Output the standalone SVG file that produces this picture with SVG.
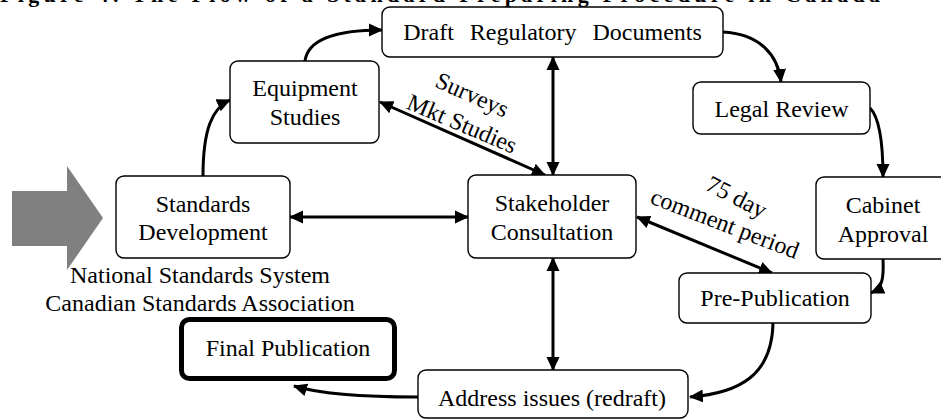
<svg xmlns="http://www.w3.org/2000/svg" width="941" height="419" viewBox="0 0 941 419">
<defs>
<marker id="ah" markerUnits="userSpaceOnUse" markerWidth="14" markerHeight="14" viewBox="0 0 14 14" refX="13" refY="7" orient="auto-start-reverse"><path d="M0,0.5 L14,7 L0,13.5 z" fill="#000"/></marker>
<style>
.box{fill:#fff;stroke:#000;stroke-width:1.4}
.t{font-family:"Liberation Serif","Times New Roman",serif;font-size:24px;fill:#000;text-anchor:middle}
.c{fill:none;stroke:#000;stroke-width:3}
.title{font-family:"Liberation Serif","Times New Roman",serif;font-size:22px;font-weight:bold;fill:#000}
</style>
</defs>
<rect width="941" height="419" fill="#fff"/>
<text class="title" x="0" y="1.5" textLength="880" lengthAdjust="spacing">Figure 4. The Flow of a Standard Preparing Procedure in Canada</text>

<polygon id="input-arrow" points="12,191 67,191 67,166 103,218 67,270 67,246 12,246" fill="#808080"/>
<text class="t" x="200" y="283">National Standards System</text>
<text class="t" x="200" y="311">Canadian Standards Association</text>

<g id="connectors">
<path class="c" d="M203,176 C203,130 212,108 230,100" marker-end="url(#ah)"/>
<path class="c" d="M305,61 C308,38 340,30 382,30" marker-end="url(#ah)"/>
<path class="c" d="M723,32 C760,34 778,55 781,82" marker-end="url(#ah)"/>
<path class="c" d="M870,108 C880,118 883,145 883,177" marker-end="url(#ah)"/>
<path class="c" d="M883,259 C884,280 882,288 871,293" marker-end="url(#ah)"/>
<path class="c" d="M773,323 C772,375 740,393 690,397" marker-end="url(#ah)"/>
<path class="c" d="M418,397 C360,397 320,394 294,386" marker-end="url(#ah)"/>
<path class="c" d="M290,217 L468,217" marker-start="url(#ah)" marker-end="url(#ah)"/>
<path class="c" d="M553,57 L553,175" marker-start="url(#ah)" marker-end="url(#ah)"/>
<path class="c" d="M553,258 L553,370" marker-start="url(#ah)" marker-end="url(#ah)"/>
<path class="c" d="M380,102 L545,175" marker-start="url(#ah)" marker-end="url(#ah)"/>
<path class="c" d="M637,217 L772,273" marker-start="url(#ah)" marker-end="url(#ah)"/>
<text class="t" transform="translate(469,102) rotate(24)">Surveys</text>
<text class="t" transform="translate(459,131) rotate(23)">Mkt Studies</text>
<text class="t" transform="translate(733,204) rotate(27)">75 day</text>
<text class="t" transform="translate(722,231) rotate(21)">comment period</text>
</g>

<g id="draft"><rect class="box" x="382" y="7" width="341" height="50" rx="8"/><text class="t" x="552.5" y="40" word-spacing="10">Draft Regulatory Documents</text></g>
<g id="equipment"><rect class="box" x="230" y="61" width="149" height="82" rx="8"/><text class="t" x="305" y="96">Equipment</text><text class="t" x="305" y="125">Studies</text></g>
<g id="standards-dev"><rect class="box" x="116" y="176" width="174" height="82" rx="8"/><text class="t" x="203" y="212">Standards</text><text class="t" x="203" y="240">Development</text></g>
<g id="stakeholder"><rect class="box" x="468" y="175" width="168" height="83" rx="8"/><text class="t" x="552" y="211">Stakeholder</text><text class="t" x="552" y="240">Consultation</text></g>
<g id="legal"><rect class="box" x="693" y="82" width="177" height="52" rx="8"/><text class="t" x="781.5" y="117">Legal Review</text></g>
<g id="cabinet"><rect class="box" x="816" y="177" width="134" height="82" rx="8"/><text class="t" x="883" y="213">Cabinet</text><text class="t" x="883" y="242">Approval</text></g>
<g id="prepub"><rect class="box" x="679" y="273" width="192" height="50" rx="8"/><text class="t" x="775" y="306">Pre-Publication</text></g>
<g id="final"><rect class="box" x="181.5" y="319.5" width="213" height="59" rx="8" style="stroke-width:5"/><text class="t" x="288" y="356">Final Publication</text></g>
<g id="address"><rect class="box" x="418" y="370" width="270" height="48" rx="8"/><text class="t" x="552" y="406">Address issues (redraft)</text></g>
</svg>
